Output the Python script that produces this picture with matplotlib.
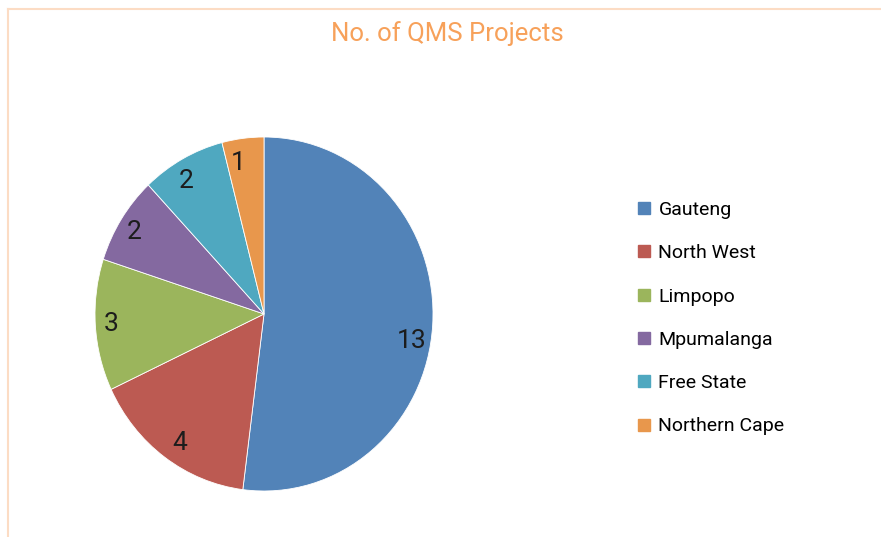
import numpy as np
import matplotlib
matplotlib.use("Agg")
from matplotlib import pyplot as plt
from matplotlib.lines import Line2D

# data
provinces = ["Gauteng", "North West", "Limpopo", "Mpumalanga", "Free State", "Northern Cape"]
projects = [13, 4, 3, 2, 2, 1]
colours = ["#5283b8", "#bc5a52", "#9bb55c", "#8469a0", "#4fa8c0", "#e8974c"]

plt.rcParams['font.family'] = ['Roboto', 'DejaVu Sans']

fig = plt.figure(figsize=(8.81, 5.37), dpi=100)
W, H = 881, 537

# pie axes: centre (264, 314) px, radii 169 x 177 px
cx, cy, rx, ry = 264, 314, 169, 177
ax = fig.add_axes([(cx - rx) / W, 1 - (cy + ry) / H, 2 * rx / W, 2 * ry / H])
wedges, texts = ax.pie(projects, colors=colours, startangle=90, counterclock=False,
                       labels=[str(v) for v in projects], labeldistance=0.86,
                       wedgeprops=dict(linewidth=0.6, edgecolor="white"),
                       textprops=dict(fontsize=19, color="#1c1c1c"))
ax.set_aspect('auto')
ax.set_xlim(-1, 1)
ax.set_ylim(-1, 1)
# Excel nudges the big label a bit lower, and the "4" a bit inwards
a = np.deg2rad(-11)
texts[0].set_position((0.80 * np.cos(a), 0.80 * np.sin(a)))
a = np.deg2rad(-122)
texts[1].set_position((0.86 * np.cos(a), 0.86 * np.sin(a)))

fig.text(447 / W, 1 - 34 / H, "No. of QMS Projects", ha='center', va='center',
         fontsize=18.5, color="#f7a15a")

handles = [Line2D([], [], linestyle='', marker='s', markersize=8, color=c) for c in colours]
fig.legend(handles, provinces, loc='upper left', bbox_to_anchor=(637 / W, 1 - 201 / H),
           frameon=False, fontsize=14, labelspacing=1.3, handlelength=0.7,
           handletextpad=0.4, borderpad=0, borderaxespad=0)

# chart-area frame (top + left)
fig.add_artist(Line2D([8 / W, 1], [1 - 9 / H, 1 - 9 / H], color="#fcdcc4", lw=1.5))
fig.add_artist(Line2D([8 / W, 8 / W], [0, 1 - 9 / H], color="#fcdcc4", lw=1.5))

fig.savefig("out.png", dpi=100)
